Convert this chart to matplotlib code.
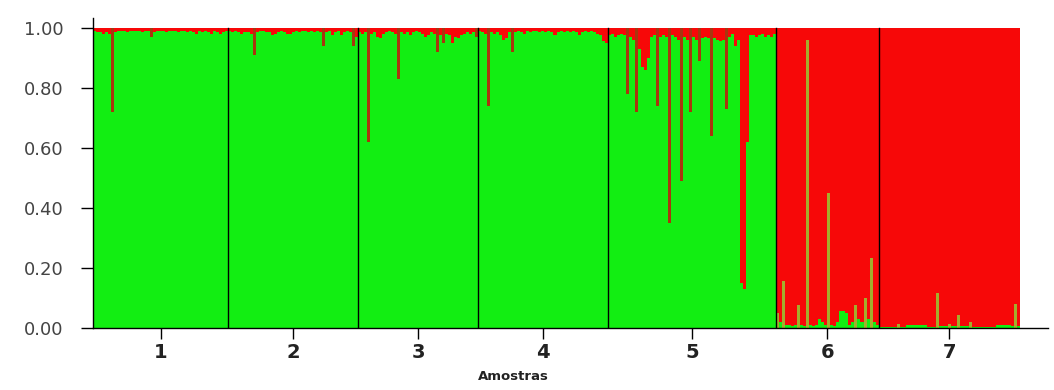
import numpy as np
import matplotlib
matplotlib.use("Agg")
import matplotlib.pyplot as plt

# proporcao do cluster verde por individuo, em cada grupo (vermelho = 1 - verde)
g1 = [0.99, 0.985, 0.985, 0.98, 0.985, 0.98, 0.72, 0.985, 0.99, 0.99,
      0.99, 0.985, 0.99, 0.99, 0.99, 0.99, 0.985, 0.99, 0.99, 0.97,
      0.985, 0.99, 0.99, 0.99, 0.985, 0.99, 0.99, 0.99, 0.985, 0.99,
      0.99, 0.985, 0.99, 0.985, 0.98, 0.99, 0.985, 0.99, 0.985, 0.98,
      0.99, 0.985, 0.98, 0.985, 0.99]
g2 = [0.99, 0.985, 0.99, 0.985, 0.98, 0.985, 0.985, 0.98, 0.91, 0.985,
      0.99, 0.99, 0.985, 0.985, 0.975, 0.98, 0.985, 0.99, 0.985, 0.98,
      0.98, 0.985, 0.99, 0.985, 0.99, 0.99, 0.985, 0.99, 0.985, 0.99,
      0.985, 0.94, 0.985, 0.99, 0.975, 0.985, 0.99, 0.975, 0.985, 0.99,
      0.985, 0.94, 0.97]
g3 = [0.985, 0.98, 0.985, 0.62, 0.98, 0.985, 0.97, 0.965, 0.98, 0.985,
      0.99, 0.985, 0.98, 0.83, 0.985, 0.98, 0.985, 0.975, 0.985, 0.99,
      0.985, 0.98, 0.97, 0.975, 0.985, 0.98, 0.92, 0.975, 0.95, 0.98,
      0.975, 0.95, 0.97, 0.965, 0.975, 0.98, 0.985, 0.98, 0.985, 0.97]
g4 = [0.99, 0.985, 0.98, 0.74, 0.985, 0.98, 0.985, 0.975, 0.96, 0.965,
      0.985, 0.92, 0.985, 0.99, 0.985, 0.98, 0.99, 0.985, 0.99, 0.99,
      0.985, 0.99, 0.985, 0.99, 0.985, 0.975, 0.985, 0.99, 0.985, 0.99,
      0.985, 0.99, 0.985, 0.975, 0.985, 0.99, 0.985, 0.99, 0.985, 0.98,
      0.975, 0.955, 0.95]
g5 = [0.975, 0.98, 0.97, 0.975, 0.98, 0.975, 0.78, 0.97, 0.96, 0.72,
      0.93, 0.87, 0.86, 0.9, 0.97, 0.975, 0.74, 0.97, 0.975, 0.97,
      0.35, 0.975, 0.97, 0.96, 0.49, 0.97, 0.96, 0.72, 0.97, 0.96,
      0.89, 0.965, 0.97, 0.965, 0.64, 0.965, 0.96, 0.955, 0.96, 0.73,
      0.97, 0.98, 0.94, 0.96, 0.15, 0.13, 0.62, 0.975, 0.975, 0.97,
      0.975, 0.98, 0.97, 0.975, 0.97, 0.98]
g6 = [0.05, 0.02, 0.155, 0.01, 0.01, 0.005, 0.01, 0.077, 0.01, 0.005,
      0.96, 0.01, 0.005, 0.01, 0.03, 0.02, 0.01, 0.45, 0.01, 0.005,
      0.02, 0.055, 0.055, 0.05, 0.01, 0.02, 0.077, 0.03, 0.02, 0.10,
      0.03, 0.233, 0.02, 0.01]
g7 = [0.003, 0.003, 0.003, 0.003, 0.003, 0.003, 0.013, 0.003, 0.003, 0.01,
      0.01, 0.01, 0.01, 0.01, 0.01, 0.01, 0.003, 0.003, 0.003, 0.117,
      0.005, 0.005, 0.005, 0.013, 0.005, 0.005, 0.043, 0.005, 0.005, 0.005,
      0.02, 0.003, 0.003, 0.003, 0.003, 0.003, 0.003, 0.003, 0.003, 0.01,
      0.01, 0.01, 0.01, 0.01, 0.005, 0.08, 0.005]
grupos = [g1, g2, g3, g4, g5, g6, g7]
rotulos = ["1", "2", "3", "4", "5", "6", "7"]

verde = "#12ee12"
vermelho = "#f70808"
marrom = "#a8360e"   # vermelho fino misturado com verde (jpeg)
oliva = "#a4ae2c"

fig = plt.figure(figsize=(10.54, 3.9), dpi=100)
ax = fig.add_axes([93/1054, 62/390, (1048-93)/1054, (372-62)/390])

x0 = 0
centros = []
limites = []
for g in grupos:
    q = np.array(g)
    n = len(q)
    xs = np.arange(x0, x0 + n)
    maioria_verde = q.mean() > 0.5
    minor = 1 - q if maioria_verde else q
    cores_min = []
    for i in range(n):
        viz = [minor[j] for j in (i-1, i+1) if 0 <= j < n]
        if max(viz) > 0.5 * minor[i]:
            cores_min.append(vermelho if maioria_verde else verde)
        else:
            cores_min.append(marrom if maioria_verde else oliva)
    if maioria_verde:
        ax.bar(xs, q, width=1.0, color=verde, linewidth=0)
        ax.bar(xs, 1 - q, bottom=q, width=1.0, color=cores_min, linewidth=0)
    else:
        ax.bar(xs, q, width=1.0, color=cores_min, linewidth=0)
        ax.bar(xs, 1 - q, bottom=q, width=1.0, color=vermelho, linewidth=0)
    centros.append(x0 + (n - 1) / 2)
    x0 += n
    limites.append(x0 - 0.5)

for b in limites[:-1]:
    ax.plot([b, b], [0, 1], color="black", lw=1.0)

N = x0
ax.set_xlim(-0.5, N - 0.5 + 9.3)
ax.set_ylim(0, 1.0333)

for s in ["top", "right"]:
    ax.spines[s].set_visible(False)
ax.spines["left"].set_linewidth(1.0)
ax.spines["bottom"].set_linewidth(1.0)

ax.set_yticks([0, 0.2, 0.4, 0.6, 0.8, 1.0])
ax.set_yticklabels(["0.00", "0.20", "0.40", "0.60", "0.80", "1.00"],
                   fontsize=13, color="#444444")
ax.tick_params(axis="y", length=9, width=1, pad=12)

ax.set_xticks(centros)
ax.set_xticklabels(rotulos, fontsize=14, fontweight="bold", color="#222222")
ax.tick_params(axis="x", length=8, width=1, pad=3)

fig.text(513/1054, 1 - 377/390, "Amostras", ha="center", va="center",
         fontsize=9.5, fontweight="bold", color="#222222")

fig.savefig("out.png", dpi=100)
